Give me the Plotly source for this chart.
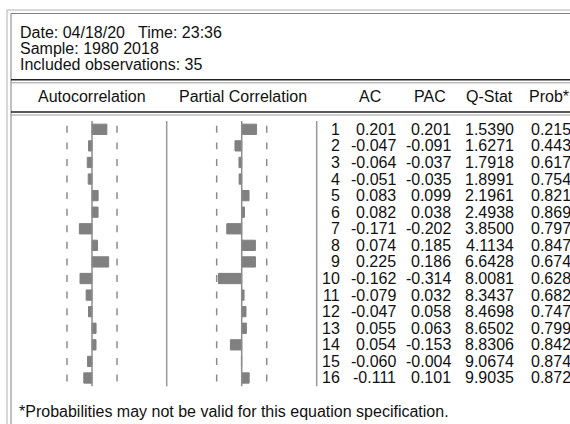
import math
import plotly.graph_objects as go

# Correlogram output: header, lags and statistics
date_line = "Date: 04/18/20   Time: 23:36"
sample_line = "Sample: 1980 2018"
obs_line = "Included observations: 35"
n_obs = 35
footnote = "*Probabilities may not be valid for this equation specification."

lags = list(range(1, 17))
ac = [0.201, -0.047, -0.064, -0.051, 0.083, 0.082, -0.171, 0.074,
      0.225, -0.162, -0.079, -0.047, 0.055, 0.054, -0.060, -0.111]
pac = [0.201, -0.091, -0.037, -0.035, 0.099, 0.038, -0.202, 0.185,
       0.186, -0.314, 0.032, 0.058, 0.063, -0.153, -0.004, 0.101]
q_stat = [1.5390, 1.6271, 1.7918, 1.8991, 2.1961, 2.4938, 3.8500, 4.1134,
          6.6428, 8.0081, 8.3437, 8.4698, 8.6502, 8.8306, 9.0674, 9.9035]
prob = [0.215, 0.443, 0.617, 0.754, 0.821, 0.869, 0.797, 0.847,
        0.674, 0.628, 0.682, 0.747, 0.799, 0.842, 0.874, 0.872]

col_headers = ["Autocorrelation", "Partial Correlation", "AC", "PAC", "Q-Stat", "Prob*"]

W, H = 570, 424
FONT = "Liberation Sans, Arial, sans-serif"
TXT = "#111111"
BAR = "#808080"
GUIDE = "#8c8c8c"

bound = 2 / math.sqrt(n_obs)

# body rows in pixel space
row_top, row_h = 121.0, 16.58
body_bottom = row_top + len(lags) * row_h
ydom = [(H - body_bottom) / H, (H - row_top) / H]

fig = go.Figure()

# bars: autocorrelation and partial correlation
for vals, ax in ((ac, "x2"), (pac, "x3")):
    fig.add_trace(go.Bar(x=vals, y=lags, orientation="h", width=0.62,
                         marker=dict(color=BAR, line=dict(color=BAR, width=1)),
                         xaxis=ax, yaxis="y2", hoverinfo="skip"))

# significance bounds drawn as one short dash per lag
def bound_dashes(b):
    xs, ys = [], []
    for lag in lags:
        xs += [b, b, None]
        ys += [lag - 0.21, lag + 0.21, None]
    return xs, ys

for ax in ("x2", "x3"):
    for b in (bound, -bound):
        xs, ys = bound_dashes(b)
        fig.add_trace(go.Scatter(x=xs, y=ys, mode="lines",
                                 line=dict(color=GUIDE, width=1.5),
                                 xaxis=ax, yaxis="y2", hoverinfo="skip"))

shapes = []
# zero lines of the two panels
for ax in ("x2", "x3"):
    shapes.append(dict(type="line", xref=ax, yref="y2 domain", x0=0, x1=0, y0=0, y1=1,
                       line=dict(color=GUIDE, width=1.5)))
# column separators in the body
for xp in (166.7, 316.7):
    shapes.append(dict(type="line", xref="x", yref="y2 domain", x0=xp, x1=xp, y0=0, y1=1,
                       line=dict(color="#999999", width=1.5)))
# double frame around the output
shapes.append(dict(type="line", xref="x", yref="y", x0=7, x1=7, y0=10, y1=H + 5,
                   line=dict(color="#b0b0b0", width=1)))
shapes.append(dict(type="line", xref="x", yref="y", x0=7, x1=W + 5, y0=10, y1=10,
                   line=dict(color="#b0b0b0", width=1)))
shapes.append(dict(type="line", xref="x", yref="y", x0=11, x1=11, y0=13.5, y1=H + 5,
                   line=dict(color="#808080", width=1)))
shapes.append(dict(type="line", xref="x", yref="y", x0=11, x1=W + 5, y0=13.5, y1=13.5,
                   line=dict(color="#808080", width=1)))
# double rules around the column header row
for y_dark, y_light in ((79.8, 82.8), (112.0, 115.0)):
    shapes.append(dict(type="line", xref="x", yref="y", x0=11, x1=W + 5, y0=y_dark, y1=y_dark,
                       line=dict(color="#222222", width=1.5)))
    shapes.append(dict(type="line", xref="x", yref="y", x0=11, x1=W + 5, y0=y_light, y1=y_light,
                       line=dict(color="#9a9a9a", width=1)))

annotations = []

def txt(x, y, s, anchor="left", xref="x", yref="y"):
    annotations.append(dict(x=x, y=y, xref=xref, yref=yref, text=s, showarrow=False,
                            xanchor=anchor, yanchor="middle", borderpad=0,
                            font=dict(family=FONT, size=16, color=TXT)))

# header block
txt(19, 32, date_line)
txt(19, 48.5, sample_line)
txt(19, 64, obs_line)

# column headers
txt(92, 96.5, col_headers[0], "center")
txt(243, 96.5, col_headers[1], "center")
txt(370, 96.5, col_headers[2], "center")
txt(429.5, 96.5, col_headers[3], "center")
txt(489, 96.5, col_headers[4], "center")
txt(528, 96.5, col_headers[5], "left")

# table of statistics, one row per lag
for i, lag in enumerate(lags):
    txt(341, lag, str(lag), "right", yref="y2")
    txt(397, lag, f"{ac[i]:.3f}", "right", yref="y2")
    txt(452, lag, f"{pac[i]:.3f}", "right", yref="y2")
    txt(515, lag, f"{q_stat[i]:.4f}", "right", yref="y2")
    txt(530, lag, f"{prob[i]:.3f}", "left", yref="y2")

txt(18, 411, footnote)

hidden = dict(visible=False, showgrid=False, zeroline=False, fixedrange=True)

fig.update_layout(
    width=W, height=H,
    margin=dict(l=0, r=0, t=0, b=0),
    paper_bgcolor="white", plot_bgcolor="rgba(0,0,0,0)",
    showlegend=False, barmode="overlay",
    xaxis=dict(range=[0, W], domain=[0, 1], anchor="y", **hidden),
    yaxis=dict(range=[H, 0], domain=[0, 1], anchor="x", **hidden),
    xaxis2=dict(range=[-1, 1], domain=[18 / W, 166 / W], anchor="y2", **hidden),
    xaxis3=dict(range=[-1, 1], domain=[167.7 / W, 315.7 / W], anchor="y2", **hidden),
    yaxis2=dict(range=[len(lags) + 0.5, 0.5], domain=ydom, anchor="x2", **hidden),
    shapes=shapes,
    annotations=annotations,
)

fig.write_html("out.html", config={"displayModeBar": False})
